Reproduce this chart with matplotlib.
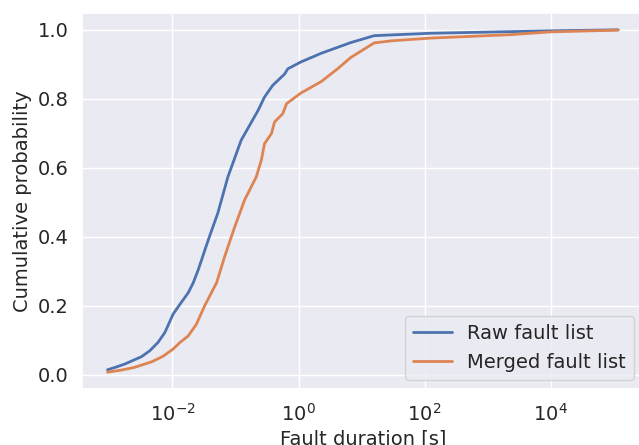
import numpy as np
import matplotlib
matplotlib.use("Agg")
import matplotlib.pyplot as plt
import seaborn as sns

# curvas (log10 de la duracion, probabilidad acumulada)
raw_logdur = [-3.03, -2.89, -2.75, -2.49, -2.36, -2.23, -2.12, -1.99, -1.88,
              -1.75, -1.67, -1.59, -1.43, -1.28, -1.12, -0.91, -0.64, -0.54,
              -0.41, -0.22, -0.17, 0.04, 0.36, 0.83, 1.20, 2.10, 4.0, 5.07]
raw_cdf = [0.015, 0.023, 0.032, 0.053, 0.070, 0.094, 0.123, 0.176, 0.205,
           0.238, 0.267, 0.305, 0.392, 0.469, 0.574, 0.680, 0.767, 0.805,
           0.839, 0.872, 0.887, 0.907, 0.932, 0.963, 0.983, 0.990, 0.997, 1.0]

merged_logdur = [-3.03, -2.81, -2.6, -2.33, -2.15, -1.99, -1.88, -1.75, -1.62,
                 -1.49, -1.30, -1.17, -1.01, -0.855, -0.67, -0.59, -0.54,
                 -0.43, -0.38, -0.25, -0.19, 0.04, 0.36, 0.62, 0.83, 1.20,
                 1.47, 2.10, 3.37, 4.0, 5.07]
merged_cdf = [0.008, 0.014, 0.022, 0.038, 0.054, 0.075, 0.094, 0.113, 0.147,
              0.200, 0.267, 0.344, 0.430, 0.507, 0.574, 0.622, 0.670, 0.699,
              0.733, 0.757, 0.786, 0.817, 0.850, 0.887, 0.920, 0.962, 0.968,
              0.976, 0.986, 0.994, 0.999]

xticks = [1e-2, 1e0, 1e2, 1e4]

sns.set_theme(style="darkgrid")
plt.rcParams.update({
    "font.size": 14,
    "axes.labelsize": 14,
    "xtick.labelsize": 14,
    "ytick.labelsize": 14,
    "legend.fontsize": 14,
})

fig = plt.figure(figsize=(6.39, 4.45), dpi=100)
ax = fig.add_axes([0.1283, 0.1252, 0.879, 0.8463])

ax.plot(10 ** np.array(raw_logdur), raw_cdf, lw=2, label="Raw fault list")
ax.plot(10 ** np.array(merged_logdur), merged_cdf, lw=2, label="Merged fault list")

ax.set_xscale("log")
ax.set_xticks(xticks)
ax.minorticks_off()
ax.set_xlabel("Fault duration [s]")
ax.set_ylabel("Cumulative probability")
ax.legend(loc="lower right")

fig.savefig("out.png", dpi=100)
